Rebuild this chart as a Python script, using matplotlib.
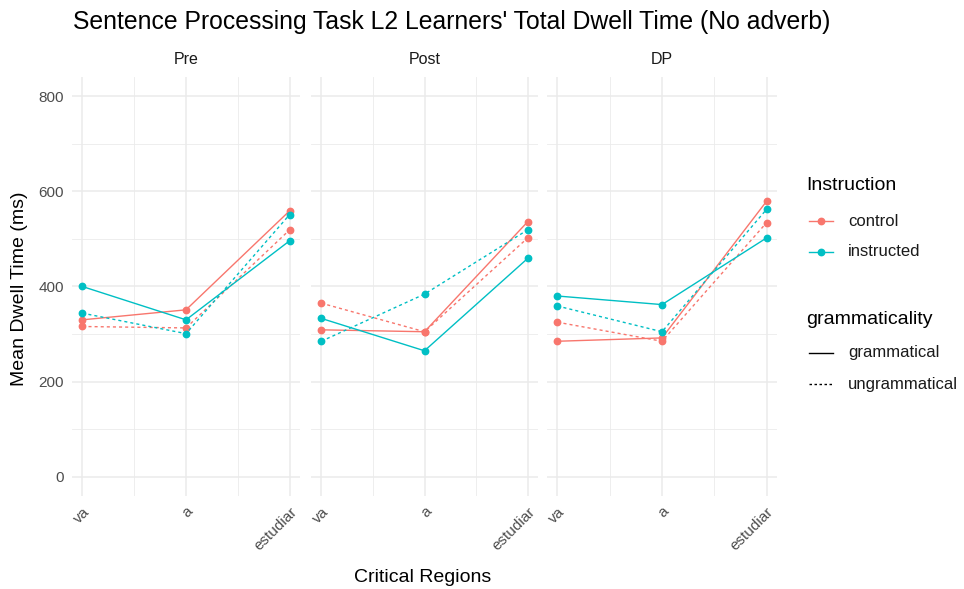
import matplotlib
matplotlib.use('Agg')
import matplotlib.pyplot as plt
from matplotlib.lines import Line2D

plt.rcParams['font.family'] = ['Liberation Sans', 'DejaVu Sans']

# ---- data -------------------------------------------------------------
regions = ['va', 'a', 'estudiar']
phases = ['Pre', 'Post', 'DP']

# mean dwell time (ms) per phase, region order as above
control_gram = {'Pre': [330, 351, 559], 'Post': [309, 305, 536], 'DP': [285, 292, 579]}
control_ungram = {'Pre': [316, 313, 519], 'Post': [365, 305, 502], 'DP': [325, 285, 534]}
instructed_gram = {'Pre': [400, 330, 496], 'Post': [333, 265, 459], 'DP': [380, 362, 502]}
instructed_ungram = {'Pre': [344, 301, 551], 'Post': [285, 384, 519], 'DP': [359, 305, 562]}

col_control = '#F8766D'
col_instructed = '#00BFC4'
txt_grey = '#4D4D4D'
grid_col = '#EBEBEB'
dash = (0, (2.2, 2.2))

series = [
    (control_gram, col_control, '-'),
    (control_ungram, col_control, dash),
    (instructed_gram, col_instructed, '-'),
    (instructed_ungram, col_instructed, dash),
]

# ---- figure -----------------------------------------------------------
W, H = 964, 589
fig = plt.figure(figsize=(W / 100, H / 100), dpi=100)

panel_px = [(72, 300), (311, 538), (547, 777)]
top_px, bot_px = 77, 496

x = [1, 2, 3]
for i, (phase, (x0, x1)) in enumerate(zip(phases, panel_px)):
    ax = fig.add_axes([x0 / W, 1 - bot_px / H, (x1 - x0) / W, (bot_px - top_px) / H])
    for data, col, ls in series:
        ax.plot(x, data[phase], color=col, linestyle=ls, linewidth=1.0,
                marker='o', markersize=4.6, zorder=3)
    ax.set_xlim(0.9, 3.1)
    ax.set_ylim(-40, 840)
    ax.set_xticks(x)
    ax.set_xticklabels(regions, rotation=45, ha='right', va='top',
                       fontsize=11, color=txt_grey, rotation_mode='anchor')
    ax.set_xticks([1.5, 2.5], minor=True)
    ax.set_yticks([0, 200, 400, 600, 800])
    ax.set_yticks([100, 300, 500, 700], minor=True)
    if i == 0:
        ax.set_yticklabels(['0', '200', '400', '600', '800'], fontsize=11, color=txt_grey)
    else:
        ax.set_yticklabels([])
    ax.tick_params(which='both', length=0, pad=6)
    ax.grid(True, which='major', color=grid_col, linewidth=1.1)
    ax.grid(True, which='minor', color=grid_col, linewidth=0.6)
    ax.set_axisbelow(True)
    for s in ax.spines.values():
        s.set_visible(False)
    ax.text(0.5, 1 + 17 / (bot_px - top_px), phase, transform=ax.transAxes,
            ha='center', va='center', fontsize=11.5, color='#1A1A1A')

# ---- titles -----------------------------------------------------------
fig.text(73 / W, 1 - 22 / H, "Sentence Processing Task L2 Learners' Total Dwell Time (No adverb)",
         ha='left', va='center', fontsize=17.8, color='black')
fig.text(423 / W, 1 - 577 / H, 'Critical Regions', ha='center', va='center',
         fontsize=14, color='black')
fig.text(20 / W, 1 - 289 / H, 'Mean Dwell Time (ms)', ha='center', va='center',
         rotation=90, fontsize=14, color='black')

# ---- legends (placed in pixel coordinates) ----------------------------
def px(xp, yp):
    return xp / W, 1 - yp / H

def key(yp, color, ls, marker):
    (xa, ya), (xb, _) = px(809, yp), px(833, yp)
    fig.add_artist(Line2D([xa, xb], [ya, ya], color=color, linestyle=ls,
                          linewidth=1.0, transform=fig.transFigure))
    if marker:
        fig.add_artist(Line2D([(xa + xb) / 2], [ya], color=color, marker='o',
                              markersize=4.6, linestyle='none',
                              transform=fig.transFigure))

fig.text(*px(806, 185), 'Instruction', ha='left', va='center', fontsize=14, color='black')
key(221, col_control, '-', True)
key(252, col_instructed, '-', True)
fig.text(*px(848, 221), 'control', ha='left', va='center', fontsize=12, color='#1A1A1A')
fig.text(*px(848, 252), 'instructed', ha='left', va='center', fontsize=12, color='#1A1A1A')

fig.text(*px(806, 319), 'grammaticality', ha='left', va='center', fontsize=14, color='black')
key(353, 'black', '-', False)
key(384, 'black', (0, (1.8, 1.8)), False)
fig.text(*px(848, 353), 'grammatical', ha='left', va='center', fontsize=12, color='#1A1A1A')
fig.text(*px(848, 384), 'ungrammatical', ha='left', va='center', fontsize=12, color='#1A1A1A')

fig.savefig('out.png', dpi=100)
